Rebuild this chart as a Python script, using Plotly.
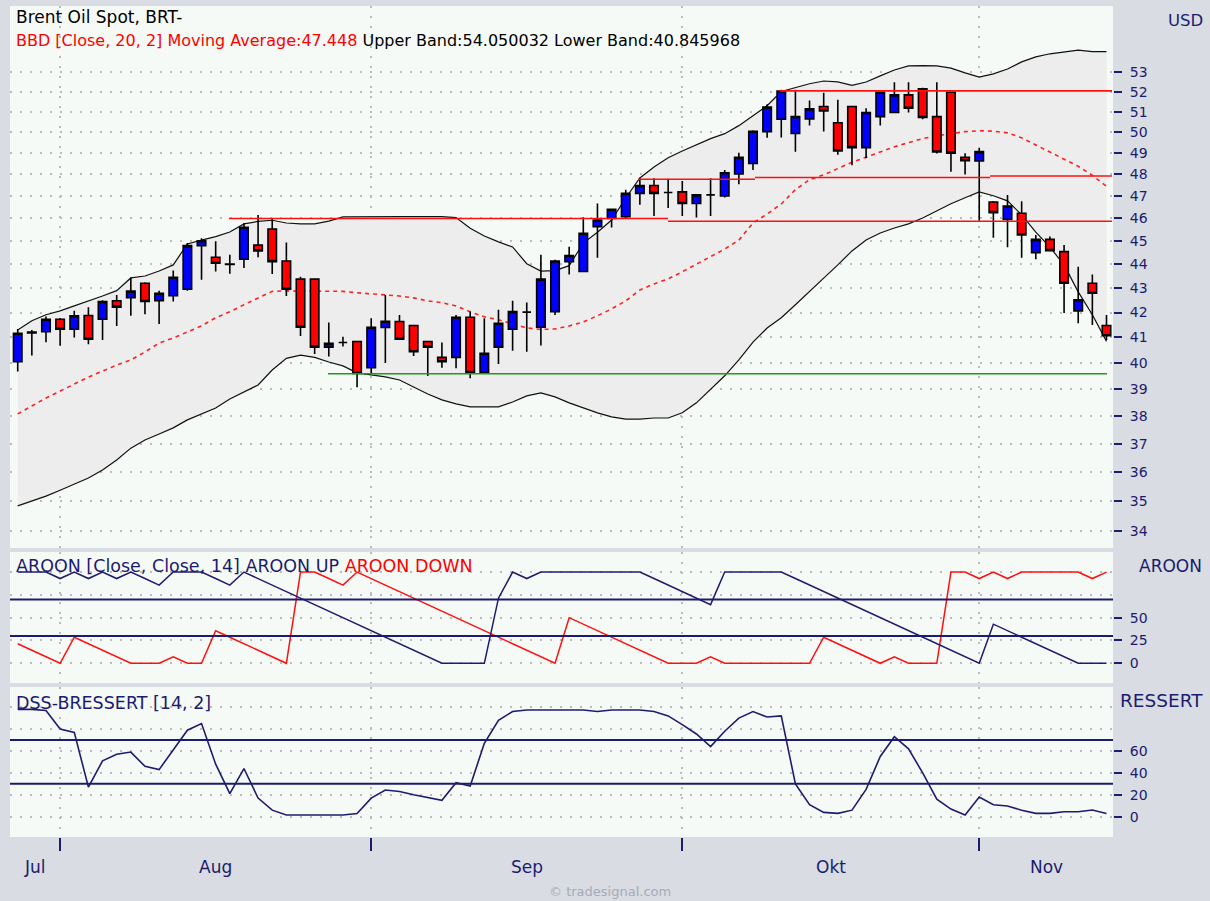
import math
import plotly.graph_objects as go

# ---------------- data ----------------
bars = list(range(78))

opens = [40.05, 41.18, 41.23, 41.73, 41.33, 41.88, 41.73, 42.48, 42.61, 43.21,
         42.48, 42.69, 42.96, 44.81, 44.31, 44.00, 44.22, 44.83, 45.53, 44.15,
         43.38, 43.38, 40.62, 40.80, 40.84, 39.82, 41.40, 41.64, 41.48, 40.84,
         40.22, 40.22, 41.81, 39.64, 40.62, 41.33, 42.02, 41.41, 42.04, 44.12,
         43.70, 45.64, 46.00, 46.08, 47.13, 47.49, 47.17, 47.20, 46.67, 47.06,
         47.01, 48.02, 48.51, 50.03, 50.63, 49.94, 50.64, 51.26, 50.46, 51.26,
         49.26, 50.76, 50.96, 51.84, 52.14, 50.76, 51.97, 48.80, 48.63, 46.74,
         45.96, 46.23, 44.50, 45.08, 44.55, 42.07, 43.21, 41.48]
highs = [41.34, 41.30, 41.84, 41.78, 42.07, 42.22, 42.50, 42.72, 43.45, 43.25,
         42.90, 43.74, 44.92, 45.13, 45.00, 44.41, 45.79, 46.15, 46.00, 44.94,
         43.48, 43.40, 41.60, 41.03, 40.86, 41.77, 42.72, 41.90, 41.50, 40.86,
         40.80, 41.90, 42.04, 41.77, 42.11, 42.48, 42.41, 44.41, 44.20, 44.76,
         46.06, 46.67, 46.45, 47.30, 47.85, 47.82, 47.80, 47.70, 47.10, 47.82,
         48.21, 49.02, 50.10, 51.37, 52.10, 52.10, 51.56, 51.95, 51.60, 51.30,
         51.17, 52.00, 52.48, 52.48, 52.20, 52.48, 52.00, 49.00, 49.26, 46.78,
         47.06, 46.77, 45.27, 45.20, 44.84, 43.90, 43.57, 41.90]
lows = [39.67, 40.29, 40.81, 40.67, 41.00, 40.73, 40.90, 41.46, 41.87, 41.93,
        41.54, 42.45, 42.90, 43.35, 43.70, 43.61, 43.85, 44.31, 43.60, 42.68,
        41.06, 40.35, 40.25, 40.64, 39.07, 39.58, 40.00, 40.90, 40.27, 39.50,
        39.82, 39.80, 39.42, 39.60, 39.96, 40.48, 40.44, 40.68, 41.90, 43.57,
        43.70, 44.29, 45.60, 46.00, 46.62, 46.11, 46.47, 46.11, 46.04, 46.11,
        46.94, 47.55, 48.21, 49.73, 49.75, 49.06, 50.33, 50.03, 48.92, 48.43,
        48.76, 50.33, 50.96, 50.96, 50.63, 48.98, 48.13, 48.00, 45.90, 45.15,
        44.74, 44.29, 44.22, 44.55, 41.98, 41.57, 41.50, 40.90]
closes = [41.17, 41.22, 41.73, 41.33, 41.87, 40.93, 42.45, 42.22, 42.88, 42.45,
          42.79, 43.46, 44.81, 45.02, 44.05, 44.02, 45.61, 44.58, 44.12, 42.96,
          41.41, 40.62, 40.77, 40.80, 39.60, 41.41, 41.65, 40.93, 40.44, 40.62,
          40.05, 41.81, 39.63, 40.38, 41.57, 42.04, 42.02, 43.38, 44.15, 44.38,
          45.35, 45.93, 46.41, 47.13, 47.49, 47.13, 47.17, 46.67, 47.06, 47.06,
          48.08, 48.80, 50.05, 51.23, 52.03, 50.76, 51.14, 51.04, 49.10, 49.26,
          50.96, 51.97, 51.84, 51.17, 50.72, 49.05, 49.00, 48.64, 49.07, 46.26,
          46.56, 45.27, 45.08, 44.59, 43.21, 42.52, 42.79, 41.07]

upper_band = [41.30, 41.67, 41.91, 42.07, 42.27, 42.46, 42.68, 42.90, 43.43, 43.51,
              43.72, 43.98, 44.88, 45.05, 45.20, 45.40, 45.76, 45.87, 45.92, 45.80,
              45.76, 45.76, 45.88, 46.07, 46.08, 46.08, 46.08, 46.08, 46.08, 46.08,
              46.08, 46.04, 45.57, 45.23, 44.97, 44.75, 44.03, 43.72, 43.74, 43.95,
              44.92, 45.39, 45.93, 46.92, 47.84, 48.35, 48.78, 49.10, 49.40, 49.69,
              49.93, 50.32, 50.80, 51.30, 52.01, 52.20, 52.40, 52.54, 52.49, 52.32,
              52.49, 52.80, 53.10, 53.31, 53.33, 53.31, 53.20, 52.95, 52.74, 52.90,
              53.15, 53.52, 53.78, 53.94, 54.05, 54.13, 54.05, 54.05]
moving_avg = [38.08, 38.38, 38.67, 38.93, 39.19, 39.46, 39.69, 39.92, 40.12, 40.43,
              40.78, 40.98, 41.22, 41.46, 41.79, 42.03, 42.32, 42.60, 42.87, 42.89,
              42.89, 42.89, 42.89, 42.87, 42.81, 42.77, 42.73, 42.68, 42.60, 42.48,
              42.40, 42.27, 42.03, 41.83, 41.71, 41.55, 41.38, 41.32, 41.34, 41.46,
              41.62, 41.87, 42.15, 42.48, 42.93, 43.18, 43.39, 43.69, 44.02, 44.32,
              44.66, 45.05, 45.80, 46.20, 46.65, 47.30, 47.76, 47.98, 48.29, 48.57,
              48.81, 49.06, 49.30, 49.50, 49.69, 49.83, 49.93, 50.03, 50.07, 50.05,
              49.97, 49.73, 49.39, 49.06, 48.71, 48.38, 47.96, 47.448]
lower_band = [34.84, 35.00, 35.17, 35.37, 35.58, 35.79, 36.07, 36.42, 36.84, 37.13,
              37.35, 37.57, 37.86, 38.08, 38.30, 38.63, 38.89, 39.16, 39.73, 40.18,
              40.31, 40.22, 40.04, 39.89, 39.62, 39.55, 39.47, 39.35, 39.08, 38.82,
              38.60, 38.45, 38.34, 38.34, 38.34, 38.52, 38.75, 38.86, 38.71, 38.49,
              38.30, 38.12, 37.97, 37.89, 37.89, 37.93, 37.93, 38.12, 38.49, 39.01,
              39.51, 40.12, 40.82, 41.38, 41.79, 42.32, 42.85, 43.42, 43.98, 44.58,
              45.05, 45.36, 45.58, 45.76, 46.02, 46.34, 46.66, 46.93, 47.20, 47.02,
              46.79, 46.16, 45.40, 44.74, 43.98, 42.85, 41.91, 40.846]

# support / resistance segments (bar index from, bar index to, price)
sr_start = [14.94, 45.99, 43.87, 52.14, 68.76, 53.91, 21.94]
sr_end = [45.99, 77.39, 52.14, 68.76, 77.39, 77.39, 77.04]
sr_level = [46.00, 45.88, 47.78, 47.86, 47.93, 52.04, 39.59]
sr_kind = ['res', 'res', 'res', 'res', 'res', 'res', 'sup']

aroon_up = [100, 100, 100, 92.9, 100, 92.9, 100, 92.9, 100, 92.9,
            85.7, 100, 100, 100, 92.9, 85.7, 100, 92.9, 85.7, 78.6,
            71.4, 64.3, 57.1, 50, 42.9, 35.7, 28.6, 21.4, 14.3, 7.1,
            0, 0, 0, 0, 71.4, 100, 92.9, 100, 100, 100,
            100, 100, 100, 100, 100, 92.9, 85.7, 78.6, 71.4, 64.3,
            100, 100, 100, 100, 100, 92.9, 85.7, 78.6, 71.4, 64.3,
            57.1, 50, 42.9, 35.7, 28.6, 21.4, 14.3, 7.1, 0, 42.9,
            35.7, 28.6, 21.4, 14.3, 7.1, 0, 0, 0]
aroon_down = [21.4, 14.3, 7.1, 0, 28.6, 21.4, 14.3, 7.1, 0, 0,
              0, 7.1, 0, 0, 35.7, 28.6, 21.4, 14.3, 7.1, 0,
              100, 100, 92.9, 85.7, 100, 92.9, 85.7, 78.6, 71.4, 64.3,
              57.1, 50, 42.9, 35.7, 28.6, 21.4, 14.3, 7.1, 0, 50,
              42.9, 35.7, 28.6, 21.4, 14.3, 7.1, 0, 0, 0, 7.1,
              0, 0, 0, 0, 0, 0, 0, 28.6, 21.4, 14.3,
              7.1, 0, 7.1, 0, 0, 0, 100, 100, 92.9, 100,
              92.9, 100, 100, 100, 100, 100, 92.9, 100]
aroon_levels = [30, 70]

dss = [98, 98, 97, 80, 77, 27, 51, 57, 59, 46,
       43, 61, 79, 85, 48, 21, 44, 17, 6, 1.6,
       1.6, 1.6, 1.6, 1.6, 3, 17, 24.4, 23, 20, 17.5,
       15, 31, 28, 67, 88, 96, 97.4, 97.4, 97.4, 97.4,
       97.4, 96, 97.4, 97.4, 97.4, 96, 92, 84, 75.5, 64,
       78, 90, 96, 91, 92, 30, 11, 4, 3.1, 6,
       25, 55, 73, 62, 40, 16, 7, 1.6, 18, 11,
       9.8, 6, 3.1, 3.1, 4.6, 4.6, 6.1, 3]
dss_levels = [30, 70]

price_ticks = list(range(34, 54))
aroon_ticks = [0, 25, 50]
aroon_extra_grid = [75, 100]
dss_ticks = [0, 20, 40, 60]
dss_extra_grid = [80, 100]

month_bounds = [3, 25, 47, 68]          # first bar of Aug, Sep, Okt, Nov
month_labels = ['Jul', 'Aug', 'Sep', 'Okt', 'Nov']

# ---------------- layout geometry ----------------
W, H = 1210, 901
PL, PR, PT, PB = 10, 1113, 6, 837
X_RANGE = [-0.545, 77.46]
MAIN_RANGE = [math.log10(33.45), math.log10(56.49)]
AROON_RANGE = [-21.6, 122]
DSS_RANGE = [-18.5, 118.4]


def fx(px):
    return (px - PL) / (PR - PL)


def fy(py):
    return (PB - py) / (PB - PT)


NAVY = '#1c1c6e'
PAPER = '#d9dce3'
PLOTBG = '#f6faf6'
BANDBG = '#ededed'
GRID = '#bcbcbc'
FONT = 'DejaVu Sans'

fig = go.Figure()

# Bollinger band (fill between upper and lower) on the base price axis
fig.add_trace(go.Scatter(x=bars, y=upper_band, mode='lines',
                         line=dict(color='#111111', width=1.2),
                         xaxis='x', yaxis='y', hoverinfo='skip'))
fig.add_trace(go.Scatter(x=bars, y=lower_band, mode='lines',
                         line=dict(color='#111111', width=1.2),
                         fill='tonexty', fillcolor=BANDBG,
                         xaxis='x', yaxis='y', hoverinfo='skip'))
fig.add_trace(go.Scatter(x=bars, y=moving_avg, mode='lines',
                         line=dict(color='#ff2020', width=1.6, dash='4px,4px'),
                         xaxis='x', yaxis='y', hoverinfo='skip'))

# candles + support/resistance on an overlaying price axis (drawn above the band fill)
fig.add_trace(go.Candlestick(
    x=bars, open=opens, high=highs, low=lows, close=closes,
    increasing=dict(fillcolor='#0000ff', line=dict(color='#000000', width=1.6)),
    decreasing=dict(fillcolor='#ff0000', line=dict(color='#000000', width=1.6)),
    whiskerwidth=0, xaxis='x', yaxis='y4', hoverinfo='skip'))

for s, e, lv, kind in zip(sr_start, sr_end, sr_level, sr_kind):
    fig.add_trace(go.Scatter(x=[s, e], y=[lv, lv], mode='lines',
                             line=dict(color='#ff1010' if kind == 'res' else '#1e9a1e', width=1.6),
                             xaxis='x', yaxis='y4', hoverinfo='skip'))

# Aroon panel
for lv in aroon_levels:
    fig.add_shape(type='line', xref='x2 domain', yref='y2', x0=0, x1=1, y0=lv, y1=lv,
                  line=dict(color=NAVY, width=2))
fig.add_trace(go.Scatter(x=bars, y=aroon_down, mode='lines',
                         line=dict(color='#ff1010', width=1.5),
                         xaxis='x2', yaxis='y2', hoverinfo='skip'))
fig.add_trace(go.Scatter(x=bars, y=aroon_up, mode='lines',
                         line=dict(color=NAVY, width=1.5),
                         xaxis='x2', yaxis='y2', hoverinfo='skip'))

# DSS panel
for lv in dss_levels:
    fig.add_shape(type='line', xref='x3 domain', yref='y3', x0=0, x1=1, y0=lv, y1=lv,
                  line=dict(color=NAVY, width=2))
fig.add_trace(go.Scatter(x=bars, y=dss, mode='lines',
                         line=dict(color=NAVY, width=1.6),
                         xaxis='x3', yaxis='y3', hoverinfo='skip'))

grid = dict(showgrid=True, gridcolor=GRID, gridwidth=1.5, griddash='2px,8px', zeroline=False)
xcommon = dict(range=X_RANGE, tickvals=month_bounds, showticklabels=False, **grid)
ycommon = dict(side='right', ticks='outside', ticklen=8, tickwidth=2, tickcolor=NAVY,
               tickfont=dict(family=FONT, size=14, color=NAVY), ticklabelstandoff=5,
               showline=False, **grid)
minor_grid = dict(ticks='', showgrid=True, gridcolor=GRID, gridwidth=1.5, griddash='2px,8px')

fig.update_layout(
    width=W, height=H,
    margin=dict(l=PL, r=W - PR, t=PT, b=H - PB),
    paper_bgcolor=PAPER, plot_bgcolor=PLOTBG,
    showlegend=False, hovermode=False, boxgap=0.4, boxgroupgap=0,
    font=dict(family=FONT, color=NAVY),
    xaxis=dict(domain=[0, 1], anchor='y', ticks='', rangeslider=dict(visible=False), **xcommon),
    xaxis2=dict(domain=[0, 1], anchor='y2', ticks='', matches='x', **xcommon),
    xaxis3=dict(domain=[0, 1], anchor='y3', ticks='outside', ticklen=13, tickwidth=2,
                tickcolor=NAVY, matches='x', **xcommon),
    yaxis=dict(domain=[fy(548), 1], anchor='x', type='log', range=MAIN_RANGE,
               tickvals=price_ticks, **ycommon),
    yaxis4=dict(overlaying='y', anchor='x', type='log', range=MAIN_RANGE, side='right',
                showgrid=False, showticklabels=False, ticks='', zeroline=False),
    yaxis2=dict(domain=[fy(683), fy(552)], anchor='x2', range=AROON_RANGE,
                tickvals=aroon_ticks, minor=dict(tickvals=aroon_extra_grid, **minor_grid),
                **ycommon),
    yaxis3=dict(domain=[0, fy(687)], anchor='x3', range=DSS_RANGE,
                tickvals=dss_ticks, minor=dict(tickvals=dss_extra_grid, **minor_grid),
                **ycommon),
)

ann = []


def text(x, y, t, size=16, color='#000000', xanchor='left', xref='paper'):
    ann.append(dict(x=x, y=y, xref=xref, yref='paper', text=t, showarrow=False,
                    xanchor=xanchor, yanchor='middle',
                    font=dict(family=FONT, size=size, color=color)))


text(fx(14), fy(17), 'Brent Oil Spot, BRT-', size=17)
text(fx(14), fy(41), '<span style="color:#ff0000">BBD [Close, 20, 2] Moving Average:47.448</span>'
                     ' Upper Band:54.050032 Lower Band:40.845968', size=16)
text(fx(14), fy(566), 'AROON [Close, Close, 14] AROON UP<span style="color:#ff0000"> AROON DOWN</span>',
     size=17.5, color=NAVY)
text(fx(14), fy(703), 'DSS-BRESSERT [14, 2]', size=17.5, color=NAVY)
text(fx(1185), fy(20), 'USD', size=16.5, color=NAVY, xanchor='center')
text(fx(1170), fy(566), 'AROON', size=17, color=NAVY, xanchor='center')
text(fx(1161), fy(700), 'RESSERT', size=18.5, color=NAVY, xanchor='center')

bounds = [X_RANGE[0]] + month_bounds + [X_RANGE[1]]
for i, lab in enumerate(month_labels):
    mid = (bounds[i] + bounds[i + 1]) / 2
    text(mid, fy(867), lab, size=17, color=NAVY, xanchor='center', xref='x3')

text(fx(610), fy(892), '© tradesignal.com', size=13, color='#a6aab6', xanchor='center')

fig.update_layout(annotations=ann)
fig.write_html('out.html', config={'displayModeBar': False},
               post_script="document.body.style.margin='0';document.body.style.overflow='hidden';")
